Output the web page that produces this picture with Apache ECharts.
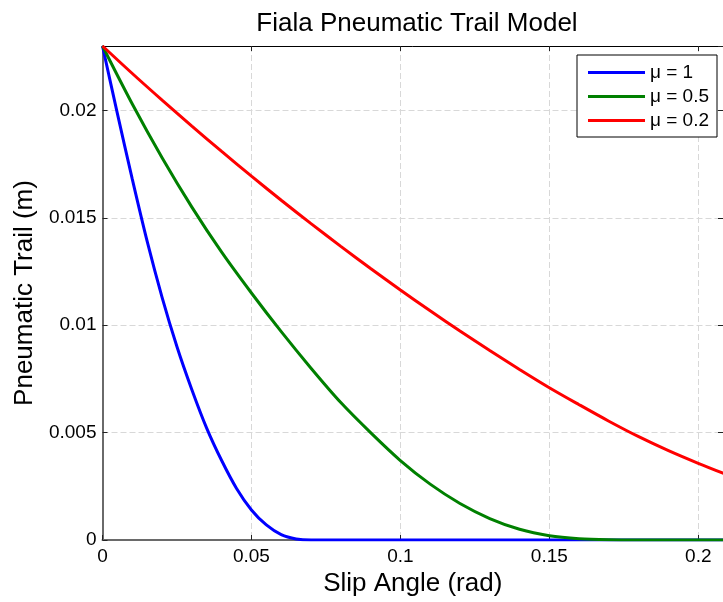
<!DOCTYPE html>
<html>
<head>
<meta charset="utf-8">
<script src="https://cdn.jsdelivr.net/npm/echarts@6/dist/echarts.min.js"></script>
<style>
  html, body { margin: 0; padding: 0; background: #fff; }
  #chart { width: 723px; height: 602px; }
</style>
</head>
<body>
<div id="chart"></div>
<script>
// Slip angle (rad) and pneumatic trail (m) samples for each friction coefficient
const slipMu1   = [0, 0.005, 0.01, 0.015, 0.02, 0.025, 0.03, 0.035, 0.04, 0.045, 0.05, 0.055, 0.06, 0.065, 0.07, 0.10, 0.15, 0.21];
const trailMu1  = [0.0230, 0.01985, 0.0168, 0.0139, 0.0113, 0.0090, 0.0070, 0.0052, 0.0037, 0.0024, 0.0014, 0.0007, 0.00025, 0.00005, 0, 0, 0, 0];

const slipMu05  = [0, 0.01, 0.02, 0.03, 0.04, 0.05, 0.06, 0.07, 0.08, 0.09, 0.10, 0.11, 0.12, 0.13, 0.14, 0.15, 0.16, 0.17, 0.18, 0.21];
const trailMu05 = [0.0230, 0.0203, 0.0178, 0.0155, 0.0134, 0.0115, 0.0097, 0.0080, 0.0064, 0.0050, 0.0037, 0.0026, 0.0017, 0.0010, 0.0005, 0.0002, 0.00006, 0.00001, 0, 0];

const slipMu02  = [0, 0.01, 0.02, 0.03, 0.04, 0.05, 0.06, 0.07, 0.08, 0.09, 0.10, 0.11, 0.12, 0.13, 0.14, 0.15, 0.16, 0.17, 0.18, 0.19, 0.20, 0.21];
const trailMu02 = [0.02300, 0.02172, 0.02048, 0.01927, 0.01809, 0.01694, 0.01582, 0.01473, 0.01367, 0.01264, 0.01164, 0.01067, 0.00973, 0.00882, 0.00794, 0.00709, 0.00630, 0.00553, 0.00481, 0.00416, 0.00357, 0.00302];

const seriesNames  = ['\u03bc = 1', '\u03bc = 0.5', '\u03bc = 0.2'];
const seriesColors = ['#0000ff', '#008000', '#ff0000'];

const xTicks = [0, 0.05, 0.1, 0.15, 0.2];
const yTicks = [0, 0.005, 0.01, 0.015, 0.02];

const FONT = 'Liberation Sans, Arial, Helvetica, sans-serif';

function pairs(xs, ys) { return xs.map((x, i) => [x, ys[i]]); }
function tickLabel(list) {
  return v => {
    const hit = list.find(t => Math.abs(t - v) < 1e-9);
    return hit === undefined ? '' : String(hit);
  };
}

const gridDash = { show: true, lineStyle: { color: '#d8d8d8', width: 1, type: [6, 3] } };
const tickIn = { show: true, inside: true, length: 5, lineStyle: { color: '#222', width: 1 } };

const chart = echarts.init(document.getElementById('chart'), null, { renderer: 'canvas' });

chart.setOption({
  backgroundColor: '#ffffff',
  animation: false,
  title: {
    text: 'Fiala Pneumatic Trail Model',
    left: 412, textAlign: 'center', top: 6,
    textStyle: { fontFamily: FONT, fontSize: 26, fontWeight: 'normal', color: '#000' }
  },
  legend: {
    orient: 'vertical',
    left: 577, top: 55,
    padding: [8, 8, 7, 11],
    itemGap: 5,
    itemWidth: 57, itemHeight: 3,
    icon: 'rect',
    backgroundColor: '#ffffff',
    borderColor: '#000', borderWidth: 1, borderRadius: 0,
    textStyle: { fontFamily: FONT, fontSize: 19, color: '#000' },
    data: seriesNames
  },
  grid: { left: 102.5, top: 46, right: -2, bottom: 62, containLabel: false },
  xAxis: [
    {
      type: 'value', min: 0, max: 0.2083, interval: 0.05,
      name: 'Slip Angle (rad)', nameLocation: 'middle', nameGap: 30,
      nameTextStyle: { fontFamily: FONT, fontSize: 26, color: '#000' },
      axisLine: { show: true, onZero: false, lineStyle: { color: '#6a6a6a', width: 2 } },
      axisTick: tickIn,
      axisLabel: { fontFamily: FONT, fontSize: 19, color: '#000', margin: 7, showMaxLabel: false, formatter: tickLabel(xTicks) },
      splitLine: gridDash
    },
    {
      type: 'value', position: 'top', min: 0, max: 0.2083, interval: 0.05,
      axisLine: { show: true, onZero: false, lineStyle: { color: '#000', width: 1 } },
      axisTick: tickIn,
      axisLabel: { show: false },
      splitLine: { show: false }
    }
  ],
  yAxis: [
    {
      type: 'value', min: 0, max: 0.023, interval: 0.005,
      name: 'Pneumatic Trail (m)', nameLocation: 'middle', nameGap: 64,
      nameTextStyle: { fontFamily: FONT, fontSize: 26, color: '#000' },
      axisLine: { show: true, onZero: false, lineStyle: { color: '#6a6a6a', width: 2 } },
      axisTick: tickIn,
      axisLabel: { fontFamily: FONT, fontSize: 19, color: '#000', margin: 6, showMaxLabel: false, formatter: tickLabel(yTicks) },
      splitLine: gridDash
    },
    {
      type: 'value', position: 'right', min: 0, max: 0.023, interval: 0.005,
      axisLine: { show: true, onZero: false, lineStyle: { color: '#000', width: 1 } },
      axisTick: tickIn,
      axisLabel: { show: false },
      splitLine: { show: false }
    }
  ],
  series: [
    { data: pairs(slipMu1, trailMu1) },
    { data: pairs(slipMu05, trailMu05) },
    { data: pairs(slipMu02, trailMu02) }
  ].map((s, i) => ({
    type: 'line',
    name: seriesNames[i],
    data: s.data,
    xAxisIndex: 0, yAxisIndex: 0,
    showSymbol: false, symbol: 'none',
    smooth: 0.3,
    color: seriesColors[i],
    lineStyle: { color: seriesColors[i], width: 3 },
    clip: true,
    z: 3 + i
  }))
});
</script>
</body>
</html>
